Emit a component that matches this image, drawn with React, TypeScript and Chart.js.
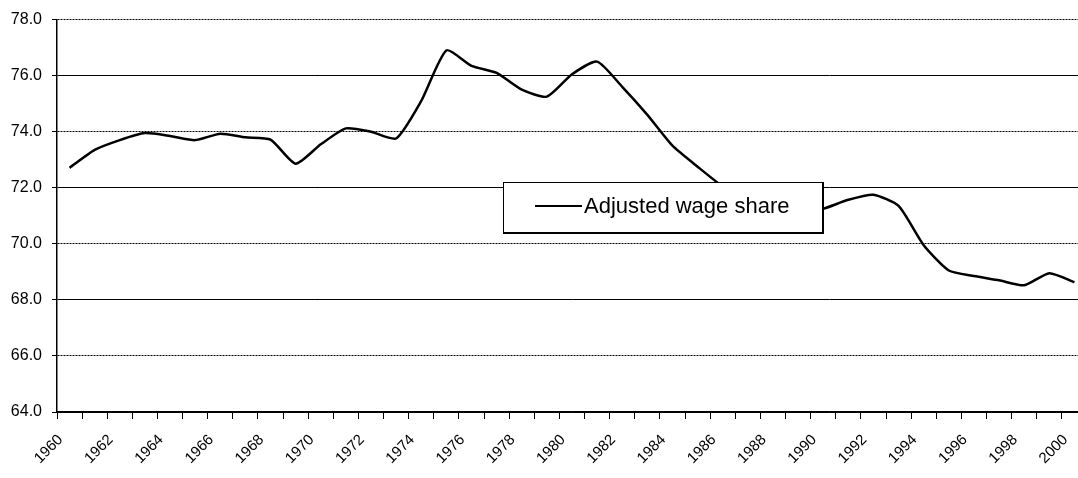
import React, { useEffect, useRef } from 'react';
import { Chart, registerables } from 'chart.js';

Chart.register(...registerables);

const years: string[] = [
  '1960', '1961', '1962', '1963', '1964', '1965', '1966', '1967', '1968', '1969',
  '1970', '1971', '1972', '1973', '1974', '1975', '1976', '1977', '1978', '1979',
  '1980', '1981', '1982', '1983', '1984', '1985', '1986', '1987', '1988', '1989',
  '1990', '1991', '1992', '1993', '1994', '1995', '1996', '1997', '1998', '1999',
  '2000',
];

const adjustedWageShare: number[] = [
  72.71, 73.35, 73.7, 73.95, 73.85, 73.7, 73.93, 73.8, 73.72, 72.86,
  73.55, 74.12, 74.0, 73.76, 75.1, 76.9, 76.35, 76.1, 75.5, 75.25,
  76.05, 76.5, 75.6, 74.6, 73.5, 72.75, 72.05, 71.6, 71.25, 71.05,
  71.25, 71.57, 71.75, 71.35, 69.95, 69.05, 68.85, 68.7, 68.52, 68.95,
  68.63,
];

const shownYearLabels: string[] = [
  '1960', '1962', '1964', '1966', '1968', '1970', '1972', '1974', '1976', '1978',
  '1980', '1982', '1984', '1986', '1988', '1990', '1992', '1994', '1996', '1998',
  '2000',
];

const yTickValues: number[] = [64, 66, 68, 70, 72, 74, 76, 78];
const dottedGridValues: number[] = [66, 70, 74, 78];

const seriesLabel = 'Adjusted wage share';
const FONT = '"Liberation Sans", Arial, sans-serif';

const legendBoxPlugin = {
  id: 'legendBox',
  afterDatasetsDraw(chart: any, _args: any, opts: any) {
    const { ctx } = chart;
    const ds = chart.data.datasets[0];
    const { left, top, width, height } = opts;
    ctx.save();
    ctx.fillStyle = '#000';
    ctx.fillRect(left, top, width, height);
    ctx.fillStyle = '#fff';
    ctx.fillRect(left + 1, top + 1, width - 3, height - 3);
    ctx.strokeStyle = ds.borderColor;
    ctx.lineWidth = 2;
    ctx.beginPath();
    ctx.moveTo(left + 32, top + 24);
    ctx.lineTo(left + 79, top + 24);
    ctx.stroke();
    ctx.fillStyle = '#000';
    ctx.font = '22px ' + FONT;
    ctx.textBaseline = 'alphabetic';
    ctx.textAlign = 'left';
    ctx.fillText(ds.label, left + 81, top + 31);
    ctx.restore();
  },
};

export default function App() {
  const canvasRef = useRef<HTMLCanvasElement | null>(null);

  useEffect(() => {
    if (!canvasRef.current) return;
    const chart = new Chart(canvasRef.current, {
      type: 'line',
      data: {
        labels: years,
        datasets: [
          {
            label: seriesLabel,
            data: adjustedWageShare,
            borderColor: '#000',
            backgroundColor: '#000',
            borderWidth: 2.5,
            pointRadius: 0,
            pointHoverRadius: 0,
            tension: 0.2,
            fill: false,
          },
        ],
      },
      options: {
        responsive: false,
        animation: false,
        devicePixelRatio: 1,
        layout: { padding: { top: 18, left: 0, right: 0, bottom: 0 } },
        plugins: {
          legend: { display: false },
          tooltip: { enabled: false },
          legendBox: { left: 503, top: 182, width: 321, height: 52 },
        } as any,
        scales: {
          x: {
            type: 'category',
            offset: true,
            grid: {
              offset: true,
              drawOnChartArea: false,
              drawTicks: true,
              tickLength: 7,
              color: '#000',
              lineWidth: 1,
            },
            border: { display: true, color: '#000', width: 1.5 },
            ticks: {
              autoSkip: false,
              minRotation: 45,
              maxRotation: 45,
              color: '#000',
              font: { family: FONT, size: 15 },
              padding: 12,
              labelOffset: -9,
              callback: function (this: any, val: any) {
                const l = this.getLabelForValue(val);
                return shownYearLabels.includes(l) ? l : '';
              },
            },
            afterFit: (scale: any) => {
              scale.height = 66;
              scale.paddingLeft = 0;
              scale.paddingRight = 0;
            },
          },
          y: {
            min: 64,
            max: 78,
            afterBuildTicks: (scale: any) => {
              scale.ticks = yTickValues.map((v) => ({ value: v }));
            },
            afterFit: (scale: any) => {
              scale.width = 57;
            },
            grid: {
              color: '#000',
              lineWidth: 1,
              drawTicks: true,
              tickLength: 5,
            },
            border: {
              display: true,
              color: '#000',
              width: 1.5,
              dash: (ctx: any) =>
                ctx && ctx.tick && dottedGridValues.includes(ctx.tick.value) ? [2, 1] : [],
            },
            ticks: {
              color: '#000',
              font: { family: FONT, size: 16 },
              padding: 10,
              callback: (v: any) => Number(v).toFixed(1),
            },
          },
        },
      },
      plugins: [legendBoxPlugin],
    });
    return () => chart.destroy();
  }, []);

  return (
    <div
      style={{
        position: 'fixed',
        left: 0,
        top: 0,
        width: 1078,
        height: 478,
        overflow: 'hidden',
        background: '#fff',
      }}
    >
      <canvas ref={canvasRef} width={1087} height={478} style={{ display: 'block' }} />
    </div>
  );
}
